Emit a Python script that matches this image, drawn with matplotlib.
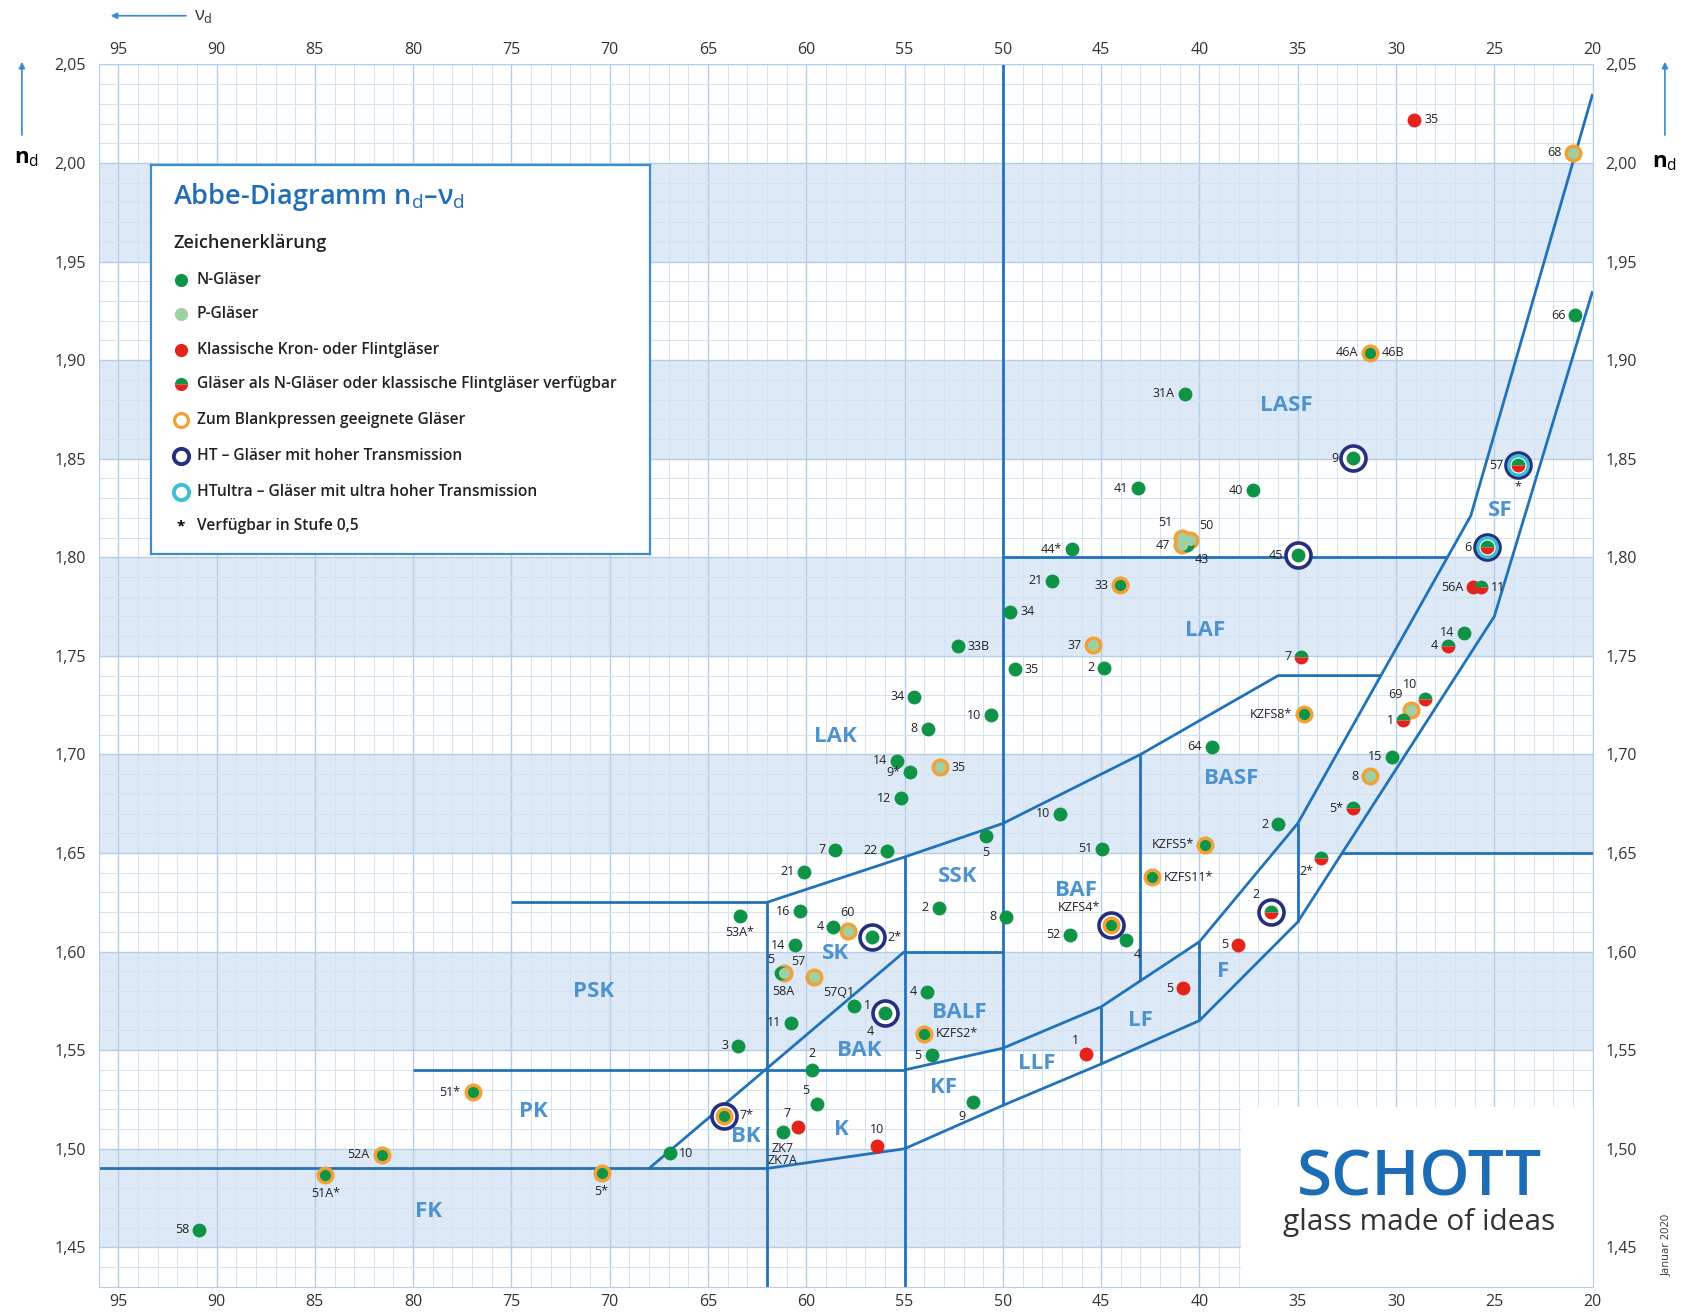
import matplotlib
matplotlib.use("Agg")
import matplotlib.pyplot as plt
from matplotlib.ticker import MultipleLocator, FixedLocator, FuncFormatter
from matplotlib.patches import Rectangle

plt.rcParams["font.family"] = ["Open Sans", "DejaVu Sans"]
plt.rcParams["mathtext.fontset"] = "custom"
plt.rcParams["mathtext.rm"] = "Open Sans"
plt.rcParams["mathtext.it"] = "Open Sans:italic"
plt.rcParams["mathtext.bf"] = "Open Sans:bold"

# --- Glas-Daten (nu_d, n_d) ---
# N-Gläser (grün)
n_names = ["N-FK58", "N-FK51A", "N-PK52A", "N-PK51", "N-FK5", "N-BK10", "N-BK7",
           "N-K5", "N-ZK7", "N-BAK2", "N-BAK1", "N-BAK4", "N-SK11", "N-PSK3",
           "N-PSK53A", "N-SK14", "N-SK16", "N-SK4", "N-SK2", "N-SSK2", "N-SSK8",
           "N-SSK5", "N-BALF4", "N-BALF5", "N-KZFS2", "N-KF9", "N-LAK21", "N-LAK7",
           "N-LAK22", "N-LAK12", "N-LAK9", "N-LAK14", "N-LAK8", "N-LAK34", "N-LAK10",
           "N-LAK33B", "N-LAF34", "N-LAF35", "N-LAF21", "N-LASF44", "N-LAF2", "N-LAF33",
           "N-LASF43", "N-LASF41", "N-LASF40", "N-LASF31A", "N-LASF46A", "N-LASF9",
           "N-LASF45", "N-SF66", "N-BAF10", "N-BAF51", "N-BAF52", "N-BAF4", "N-KZFS4",
           "N-KZFS11", "N-KZFS5", "N-KZFS8", "N-BASF64", "N-BASF2", "N-SF15", "N-SF14",
           "N-SK5"]
n_vd = [90.90, 84.47, 81.61, 76.98, 70.41, 66.95, 64.17,
        59.48, 61.19, 59.71, 57.55, 55.98, 60.80, 63.46,
        63.39, 60.60, 60.32, 58.63, 56.65, 53.27, 49.83,
        50.88, 53.87, 53.63, 54.01, 51.54, 60.10, 58.52,
        55.89, 55.20, 54.71, 55.41, 53.83, 54.50, 50.62,
        52.30, 49.62, 49.40, 47.49, 46.50, 44.85, 44.05,
        40.61, 43.13, 37.30, 40.76, 31.32, 32.17,
        34.97, 20.88, 47.11, 44.96, 46.60, 43.72, 44.49,
        42.41, 39.70, 34.70, 39.38, 36.00, 30.20, 26.53,
        61.27]
n_nd = [1.4590, 1.4866, 1.4970, 1.5286, 1.4875, 1.4978, 1.5168,
        1.5225, 1.5085, 1.5400, 1.5725, 1.5688, 1.5638, 1.5523,
        1.6180, 1.6031, 1.6204, 1.6127, 1.6074, 1.6223, 1.6177,
        1.6584, 1.5796, 1.5474, 1.5584, 1.5235, 1.6405, 1.6516,
        1.6511, 1.6779, 1.6910, 1.6968, 1.7130, 1.7292, 1.7200,
        1.7550, 1.7725, 1.7433, 1.7880, 1.8042, 1.7440, 1.7858,
        1.8061, 1.8350, 1.8340, 1.8830, 1.9037, 1.8503,
        1.8011, 1.9229, 1.6700, 1.6522, 1.6086, 1.6057, 1.6134,
        1.6378, 1.6541, 1.7205, 1.7040, 1.6645, 1.6989, 1.7618,
        1.5891]

# P-Gläser (hellgrün)
p_names = ["P-SK58A", "P-SK57", "P-SK60", "P-LAK35", "P-LAF37", "P-LASF47",
           "P-LASF51", "P-LASF50", "P-SF8", "P-SF69", "P-SF68"]
p_vd = [61.15, 59.60, 57.90, 53.20, 45.40, 40.90, 40.90, 40.46, 31.31, 29.23, 21.00]
p_nd = [1.5891, 1.5870, 1.6104, 1.6935, 1.7555, 1.8061, 1.8100, 1.8086, 1.6889,
        1.7225, 2.0052]

# klassische Kron- oder Flintgläser (rot)
k_names = ["LASF35", "K7", "K10", "LLF1", "LF5", "F5", "SF56A"]
k_vd = [29.06, 60.41, 56.41, 45.75, 40.85, 38.03, 26.08]
k_nd = [2.0220, 1.5111, 1.5014, 1.5481, 1.5814, 1.6034, 1.7847]

# als N-Glas oder klassisches Flintglas verfügbar (grün/rot)
nk_names = ["N-F2", "N-SF2", "N-SF5", "N-SF1", "N-SF10", "N-SF4", "N-SF11",
            "N-SF6", "N-SF57", "N-LAF7"]
nk_vd = [36.37, 33.82, 32.21, 29.62, 28.53, 27.38, 25.68, 25.36, 23.78, 34.82]
nk_nd = [1.6200, 1.6477, 1.6727, 1.7174, 1.7283, 1.7551, 1.7847, 1.8052, 1.8467,
         1.7495]

# Ringe
press_glasses = ["N-FK51A", "N-PK52A", "N-PK51", "N-FK5", "N-BK7", "N-KZFS2",
                 "N-KZFS4", "N-KZFS5", "N-KZFS8", "N-KZFS11", "N-LAF33", "N-LASF46A",
                 "P-SK58A", "P-SK57", "P-SK60", "P-LAK35", "P-LAF37", "P-LASF47",
                 "P-LASF51", "P-LASF50", "P-SF8", "P-SF69", "P-SF68"]
ht_glasses = ["N-BK7", "N-BAK4", "N-SK2", "N-KZFS4", "N-F2", "N-LASF45", "N-LASF9",
              "N-SF6", "N-SF57"]
htultra_glasses = ["N-SF6", "N-SF57"]

# Beschriftung der Punkte
point_text = {
    "N-FK58": "58", "N-FK51A": "51A*", "N-PK52A": "52A", "N-PK51": "51*",
    "N-FK5": "5*", "N-BK10": "10", "N-BK7": "7*", "N-K5": "5", "N-ZK7": "ZK7\nZK7A",
    "N-BAK2": "2", "N-BAK1": "1", "N-BAK4": "4", "N-SK11": "11", "N-PSK3": "3",
    "N-PSK53A": "53A*", "N-SK14": "14", "N-SK16": "16", "N-SK4": "4", "N-SK2": "2*",
    "N-SSK2": "2", "N-SSK8": "8", "N-SSK5": "5", "N-BALF4": "4", "N-BALF5": "5",
    "N-KZFS2": "KZFS2*", "N-KF9": "9", "N-LAK21": "21", "N-LAK7": "7",
    "N-LAK22": "22", "N-LAK12": "12", "N-LAK9": "9*", "N-LAK14": "14",
    "N-LAK8": "8", "N-LAK34": "34", "N-LAK10": "10", "N-LAK33B": "33B",
    "N-LAF34": "34", "N-LAF35": "35", "N-LAF21": "21", "N-LASF44": "44*",
    "N-LAF2": "2", "N-LAF33": "33", "N-LASF43": "43", "N-LASF41": "41",
    "N-LASF40": "40", "N-LASF31A": "31A", "N-LASF46A": "46A|46B", "N-LASF9": "9",
    "N-LASF45": "45", "N-SF66": "66", "N-BAF10": "10", "N-BAF51": "51",
    "N-BAF52": "52", "N-BAF4": "4", "N-KZFS4": "KZFS4*", "N-KZFS11": "KZFS11*",
    "N-KZFS5": "KZFS5*", "N-KZFS8": "KZFS8*", "N-BASF64": "64", "N-BASF2": "2",
    "N-SF15": "15", "N-SF14": "14", "N-SK5": "5",
    "P-SK58A": "58A", "P-SK57": "57|57Q1", "P-SK60": "60", "P-LAK35": "35",
    "P-LAF37": "37", "P-LASF47": "47", "P-LASF51": "51", "P-LASF50": "50",
    "P-SF8": "8", "P-SF69": "69", "P-SF68": "68",
    "LASF35": "35", "K7": "7", "K10": "10", "LLF1": "1", "LF5": "5", "F5": "5",
    "SF56A": "56A",
    "N-F2": "2", "N-SF2": "2*", "N-SF5": "5*", "N-SF1": "1", "N-SF10": "10",
    "N-SF4": "4", "N-SF11": "11", "N-SF6": "6", "N-SF57": "57|*", "N-LAF7": "7",
}

# Glasgruppen-Grenzen (nu_d, n_d)
border_v50 = ([50, 50], [2.05, 1.522])
border_180 = ([50, 27.4], [1.80, 1.80])
border_flint_top = ([55, 50, 45, 40, 35, 26.2, 20], [1.54, 1.551, 1.572, 1.605, 1.665, 1.821, 2.035])
border_bottom = ([62, 55, 50, 45, 40, 35, 25, 20], [1.49, 1.50, 1.522, 1.543, 1.565, 1.615, 1.77, 1.935])
border_fk = ([96, 62], [1.49, 1.49])
border_pk = ([80, 55], [1.54, 1.54])
border_psk = ([75, 62], [1.625, 1.625])
border_lak = ([62, 55, 50, 43, 36, 30.8], [1.625, 1.648, 1.665, 1.70, 1.74, 1.74])
border_v62 = ([62, 62], [1.625, 1.43])
border_v55 = ([55, 55], [1.648, 1.43])
border_bk = ([68, 55], [1.49, 1.60])
border_ssk = ([55, 50], [1.60, 1.60])
border_v45 = ([45, 45], [1.572, 1.543])
border_v43 = ([43, 43], [1.70, 1.585])
border_v40 = ([40, 40], [1.605, 1.565])
border_v35 = ([35, 35], [1.665, 1.615])
border_sf = ([32.74, 20], [1.65, 1.65])
borders = [border_v50, border_180, border_flint_top, border_bottom, border_fk,
           border_pk, border_psk, border_lak, border_v62, border_v55, border_bk,
           border_ssk, border_v45, border_v43, border_v40, border_v35, border_sf]

# Gruppennamen
region_names = ["LASF", "LAF", "SF", "LAK", "BASF", "SSK", "BAF", "SK", "PSK", "BALF",
                "BAK", "LF", "F", "LLF", "PK", "KF", "BK", "K", "FK"]
region_vd = [35.6, 39.7, 24.7, 58.5, 38.4, 52.3, 46.3, 58.5, 70.8, 52.2,
             57.3, 43.0, 38.8, 48.3, 73.9, 53.0, 63.1, 58.2, 79.2]
region_nd = [1.877, 1.763, 1.824, 1.709, 1.688, 1.638, 1.631, 1.599, 1.580, 1.569,
             1.550, 1.565, 1.590, 1.543, 1.519, 1.531, 1.506, 1.510, 1.468]

band_lows = [1.45, 1.55, 1.65, 1.75, 1.85, 1.95]

x_ticks = list(range(95, 19, -5))
y_ticks = [1.45, 1.50, 1.55, 1.60, 1.65, 1.70, 1.75, 1.80, 1.85, 1.90, 1.95, 2.00, 2.05]

# Farben
GREEN = "#0f9447"
PGREEN = "#9fcfa4"
RED = "#e3241b"
ORANGE = "#f2a235"
NAVY = "#262f7c"
CYAN = "#3bbfd2"
LINE = "#2272b9"
REGION = "#4d93cf"
BAND = "#dde9f6"


def draw_glass(ax, x, y, core, press=False, ht=False, htu=False, s=1.0):
    if ht:
        ax.plot(x, y, "o", ms=18 * s, mfc="white", mec=NAVY, mew=2.6 * s, zorder=4)
    if htu:
        ax.plot(x, y, "o", ms=14 * s, mfc="white", mec=CYAN, mew=2.4 * s, zorder=4.1)
    ms = 10 * s
    if press:
        ax.plot(x, y, "o", ms=13 * s, mfc=ORANGE, mec="none", zorder=4.2)
        ms = 8 * s
    if core == "NK":
        ax.plot(x, y, "o", ms=ms, fillstyle="top", mfc=GREEN, mfcalt=RED,
                mec="none", zorder=4.3)
    elif core == "none":
        ax.plot(x, y, "o", ms=ms, mfc="white", mec="none", zorder=4.3)
    else:
        col = {"N": GREEN, "P": PGREEN, "K": RED}[core]
        ax.plot(x, y, "o", ms=ms, mfc=col, mec="none", zorder=4.3)


OFFS = {"l": (-1, 0, "right", "center"), "r": (1, 0, "left", "center"),
        "t": (0, 1, "center", "bottom"), "b": (0, -1, "center", "top"),
        "tl": (-0.75, 0.75, "right", "bottom"), "tr": (0.75, 0.75, "left", "bottom"),
        "bl": (-0.75, -0.75, "right", "top"), "br": (0.75, -0.75, "left", "top")}

label_side = {
    "N-FK51A": "b", "N-FK5": "b", "N-BK10": "r", "N-BK7": "r", "N-K5": "tl",
    "N-ZK7": "b", "N-BAK2": "t", "N-BAK1": "r", "N-BAK4": "bl", "N-PSK53A": "b",
    "N-SK2": "r", "N-SSK5": "b", "N-KZFS2": "r", "N-KF9": "bl", "N-LAK33B": "r",
    "N-LAF34": "r", "N-LAF35": "r", "N-LASF43": "br", "N-LASF46A": "l|r",
    "N-BAF4": "br", "N-KZFS4": "tl", "N-KZFS11": "r", "N-SK5": "tl",
    "P-SK58A": "b", "P-SK57": "tl|br", "P-SK60": "t", "P-LAK35": "r",
    "P-LASF51": "tl", "P-LASF50": "tr", "P-SF69": "tl", "LASF35": "r",
    "K7": "tl", "K10": "t", "LLF1": "tl", "N-F2": "tl", "N-SF2": "bl",
    "N-SF10": "tl", "N-SF11": "r", "N-SF57": "l|b",
}

fig = plt.figure(figsize=(16.86, 13.13), dpi=100)
ax = fig.add_axes([0.0585, 0.020, 0.8861, 0.9309])
ax.set_xlim(96, 20)
ax.set_ylim(1.43, 2.05)

for lo in band_lows:
    ax.axhspan(lo, lo + 0.05, color=BAND, lw=0, zorder=0.2)

ax.xaxis.set_major_locator(FixedLocator(x_ticks))
ax.yaxis.set_major_locator(FixedLocator(y_ticks))
ax.xaxis.set_minor_locator(MultipleLocator(1))
ax.yaxis.set_minor_locator(MultipleLocator(0.01))
ax.xaxis.set_major_formatter(FuncFormatter(lambda v, p: f"{v:.0f}"))
ax.yaxis.set_major_formatter(FuncFormatter(lambda v, p: f"{v:.2f}".replace(".", ",")))
ax.set_axisbelow(True)
ax.grid(which="minor", color="#d3e2f2", lw=0.7)
ax.grid(which="major", color="#b5cde8", lw=1.0)
ax.tick_params(which="both", length=0, top=True, right=True,
               labeltop=True, labelright=True, labelsize=11.5, labelcolor="#333333")
ax.tick_params(axis="x", pad=5)
ax.tick_params(axis="y", pad=9)
for sp in ax.spines.values():
    sp.set_color("#b5cde8")

# weisses Feld fuer das Logo (nu_d 37,9 ... 20)
ax.add_patch(Rectangle((20, 1.43), 17.9, 0.091, facecolor="white", edgecolor="none", zorder=0.7))

for bx, by in borders:
    ax.plot(bx, by, color=LINE, lw=2.0, solid_capstyle="butt", zorder=2)

for name, x, y in zip(region_names, region_vd, region_nd):
    ax.text(x, y, name, color=REGION, fontsize=16, fontweight="bold",
            ha="center", va="center", zorder=3)

groups = [("N", n_names, n_vd, n_nd), ("P", p_names, p_vd, p_nd),
          ("K", k_names, k_vd, k_nd), ("NK", nk_names, nk_vd, nk_nd)]
for core, names, xs, ys in groups:
    for name, x, y in zip(names, xs, ys):
        ht = name in ht_glasses
        draw_glass(ax, x, y, core, press=name in press_glasses, ht=ht,
                   htu=name in htultra_glasses)
        texts = point_text[name].split("|")
        sides = label_side.get(name, "l").split("|")
        r = 11 if ht else (8.5 if name in press_glasses else 7)
        for t, sd in zip(texts, sides):
            dx, dy, ha, va = OFFS[sd]
            ax.annotate(t, (x, y), xytext=(dx * r, dy * r), textcoords="offset points",
                        ha=ha, va=va, fontsize=9, color="#222222", zorder=5,
                        linespacing=0.9)

# Logo
fig.text(0.8417, 0.1024, "SCHOTT", color="#1c6db6", fontsize=46, ha="center",
         va="center", fontweight="semibold")
fig.text(0.8417, 0.0689, "glass made of ideas", color="#333333", fontsize=21.5,
         ha="center", va="center")
fig.text(0.9885, 0.052, "Januar 2020", rotation=90, fontsize=8, color="#333333",
         ha="center", va="center")

# Achsenbeschriftung
arrow = dict(arrowstyle="-|>", color="#3a8ad0", lw=1.2, mutation_scale=9)
ax.annotate("", xy=(0.013, 0.955), xytext=(0.013, 0.895), xycoords="figure fraction",
            arrowprops=arrow)
fig.text(0.016, 0.879, r"$\mathbf{n}_\mathrm{d}$", fontsize=16, ha="center", va="center")
ax.annotate("", xy=(0.9875, 0.955), xytext=(0.9875, 0.895), xycoords="figure fraction",
            arrowprops=arrow)
fig.text(0.9875, 0.876, r"$\mathbf{n}_\mathrm{d}$", fontsize=16, ha="center", va="center")
ax.annotate("", xy=(0.064, 0.988), xytext=(0.112, 0.988), xycoords="figure fraction",
            arrowprops=arrow)
fig.text(0.1205, 0.988, r"ν$_\mathrm{d}$", fontsize=13, ha="center", va="center",
         color="#333333")

# Legende
lg = fig.add_axes([0.0893, 0.578, 0.2965, 0.2967], zorder=10)
lg.set_xlim(0, 1)
lg.set_ylim(0, 1)
lg.set_xticks([])
lg.set_yticks([])
for sp in lg.spines.values():
    sp.set_color("#3d8bd0")
    sp.set_linewidth(1.6)
lg.text(0.045, 0.917, r"Abbe-Diagramm n$_\mathrm{d}$–ν$_\mathrm{d}$", color="#1f6db5",
        fontsize=19.5, fontweight="semibold", va="center")
lg.text(0.045, 0.798, "Zeichenerklärung", fontsize=13, fontweight="semibold",
        color="#222222", va="center")
legend_rows = [("N", False, False, False, "N-Gläser"),
               ("P", False, False, False, "P-Gläser"),
               ("K", False, False, False, "Klassische Kron- oder Flintgläser"),
               ("NK", False, False, False, "Gläser als N-Gläser oder klassische Flintgläser verfügbar"),
               ("none", True, False, False, "Zum Blankpressen geeignete Gläser"),
               (None, False, True, False, "HT – Gläser mit hoher Transmission"),
               (None, False, False, True, "HTultra – Gläser mit ultra hoher Transmission"),
               ("*", False, False, False, "Verfügbar in Stufe 0,5")]
row_y = [0.704, 0.616, 0.524, 0.436, 0.345, 0.253, 0.160, 0.0715]
for (core, pr, ht, htu, txt), y in zip(legend_rows, row_y):
    if core == "*":
        lg.text(0.060, y, "*", fontsize=11, ha="center", va="center", fontweight="bold")
    elif core is None:
        col = NAVY if ht else CYAN
        lg.plot(0.060, y, "o", ms=11, mfc="white", mec=col, mew=2.8)
    else:
        draw_glass(lg, 0.060, y, core, press=pr, s=0.95)
    lg.text(0.0926, y, txt, fontsize=11.2, fontweight="semibold", color="#222222",
            va="center")

fig.savefig("out.png", dpi=100, facecolor="white")
